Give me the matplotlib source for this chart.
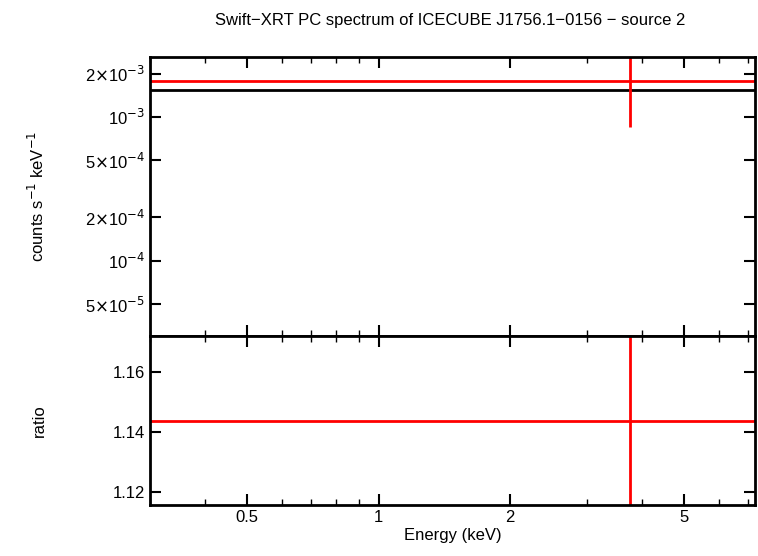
import matplotlib
matplotlib.use("Agg")
import matplotlib.pyplot as plt
from matplotlib.ticker import FixedLocator, NullLocator, NullFormatter

plt.rcParams["font.family"] = "Liberation Sans"

# data bin (single spectral bin)
e_lo = [0.3]
e_hi = [7.26]
e_mid = [3.76]
rate = [1.78e-3]
rate_lo = [8.5e-4]
rate_hi = [2.7e-3]
model = [1.54e-3]
ratio = [1.1437]
ratio_lo = [1.11]
ratio_hi = [1.18]

fig = plt.figure(figsize=(7.58, 5.56), dpi=100)
ax1 = fig.add_axes([150 / 758, 1 - 336 / 556, 605 / 758, 279 / 556])
ax2 = fig.add_axes([150 / 758, 1 - 505 / 556, 605 / 758, 169 / 556], sharex=ax1)

for i in range(len(rate)):
    ax1.hlines(model[i], e_lo[i], e_hi[i], color="black", lw=2)
    ax1.hlines(rate[i], e_lo[i], e_hi[i], color="red", lw=2)
    ax1.vlines(e_mid[i], rate_lo[i], rate_hi[i], color="red", lw=2)
    ax2.hlines(ratio[i], e_lo[i], e_hi[i], color="red", lw=2)
    ax2.vlines(e_mid[i], ratio_lo[i], ratio_hi[i], color="red", lw=2)

ax1.set_xscale("log")
ax1.set_yscale("log")
ax1.set_xlim(0.3, 7.26)
ax1.set_ylim(3.0e-5, 2.61e-3)
ax2.set_ylim(1.1157, 1.172)

ytick_vals = [5e-5, 1e-4, 2e-4, 5e-4, 1e-3, 2e-3]
ytick_labels = [r"5$\times$10$^{-5}$", r"10$^{-4}$", r"2$\times$10$^{-4}$",
                r"5$\times$10$^{-4}$", r"10$^{-3}$", r"2$\times$10$^{-3}$"]
ax1.yaxis.set_major_locator(FixedLocator(ytick_vals))
ax1.set_yticklabels(ytick_labels)
ax1.yaxis.set_minor_locator(NullLocator())

xtick_vals = [0.5, 1, 2, 5]
ax2.xaxis.set_major_locator(FixedLocator(xtick_vals))
ax2.set_xticklabels(["0.5", "1", "2", "5"])
ax2.xaxis.set_minor_locator(FixedLocator([0.3, 0.4, 0.6, 0.7, 0.8, 0.9, 3, 4, 6, 7]))
ax2.xaxis.set_minor_formatter(NullFormatter())
ax2.set_yticks([1.12, 1.14, 1.16])
ax2.set_yticklabels(["1.12", "1.14", "1.16"])
plt.setp(ax1.get_xticklabels(), visible=False)

for ax in (ax1, ax2):
    ax.tick_params(which="both", direction="in", top=True, right=True, labelsize=12)
    ax.tick_params(which="major", length=8, width=1.5)
    ax.tick_params(which="minor", length=4, width=1)
    for s in ax.spines.values():
        s.set_linewidth(2)

ax1.set_ylabel(r"counts s$^{-1}$ keV$^{-1}$", fontsize=12)
ax2.set_ylabel("ratio", fontsize=12)
ax1.yaxis.set_label_coords(-0.17, 0.5)
ax2.yaxis.set_label_coords(-0.17, 0.5)
ax2.set_xlabel("Energy (keV)", fontsize=12, labelpad=2)
fig.text(450 / 758, 1 - 20 / 556, "Swift\u2212XRT PC spectrum of ICECUBE J1756.1\u22120156 \u2212 source 2",
         ha="center", va="center", fontsize=12)

fig.savefig("out.png", dpi=100)
